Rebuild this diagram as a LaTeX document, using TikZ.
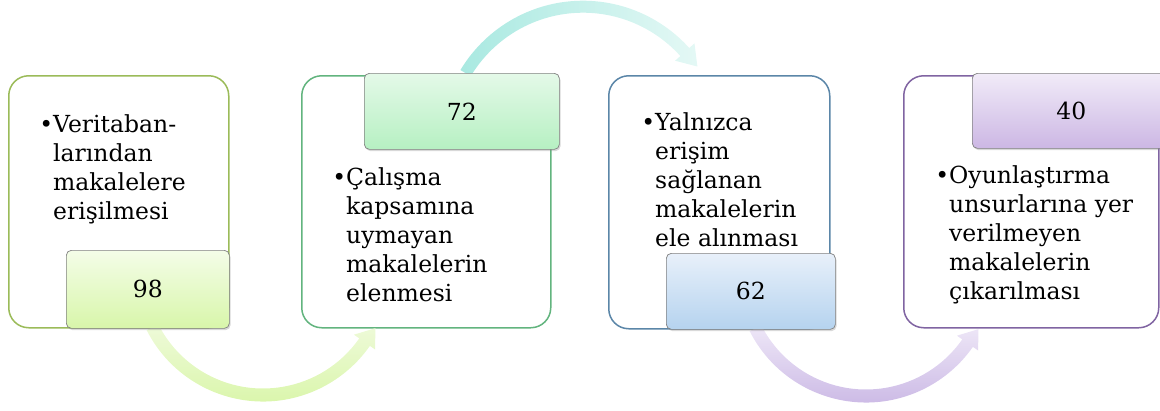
\documentclass[tikz,border=0pt]{standalone}
\usepackage{fontspec}
\setmainfont{DejaVu Serif}
\usetikzlibrary{calc,shadows}
\definecolor{bAcol}{HTML}{9BBB59}
\definecolor{bBcol}{HTML}{62B47E}
\definecolor{bCcol}{HTML}{5B86A8}
\definecolor{bDcol}{HTML}{8064A2}
\definecolor{tabline}{HTML}{808080}
\definecolor{tAtop}{HTML}{F4FDE8}
\definecolor{tAbot}{HTML}{D8F6AA}
\definecolor{tBtop}{HTML}{E4F9E8}
\definecolor{tBbot}{HTML}{B6F0C2}
\definecolor{tCtop}{HTML}{E8F0FA}
\definecolor{tCbot}{HTML}{B5D3EF}
\definecolor{tDtop}{HTML}{F1EBF8}
\definecolor{tDbot}{HTML}{CCB7E4}
\definecolor{aApale}{HTML}{EEFAD9}
\definecolor{aAsat}{HTML}{D6F5A2}
\definecolor{aBpale}{HTML}{E4F8F5}
\definecolor{aBsat}{HTML}{A9E9E1}
\definecolor{aCpale}{HTML}{EEE7F7}
\definecolor{aCsat}{HTML}{C5B1E2}
\newcommand\bultext[1]{\parbox[t]{260pt}{\raggedright\leavevmode\llap{•}#1}}
\begin{document}
\begin{tikzpicture}[x=1pt,y=-1pt,
  outerbox/.style={draw=#1, line width=1.5pt, rounded corners=20pt, fill=white,
    anchor=north west, inner sep=0pt},
  tabbox/.style 2 args={draw=tabline, line width=0.7pt, rounded corners=5pt,
    top color=#1, bottom color=#2, anchor=north west, inner sep=0pt,
    font=\fontsize{23.5pt}{29pt}\selectfont,
    drop shadow={shadow xshift=1.2pt, shadow yshift=-1.8pt, opacity=0.3}},
  txt/.style={anchor=base west, inner sep=0pt, font=\fontsize{23.5pt}{29pt}\selectfont}
]
\useasboundingbox (0,0) rectangle (1160,410);

% outer boxes
\node[outerbox=bAcol, minimum width=220pt, minimum height=252pt] (b1) at (8,75) {};
\node[outerbox=bBcol, minimum width=249pt, minimum height=252pt] (b2) at (301,75) {};
\node[outerbox=bCcol, minimum width=221pt, minimum height=253pt] (b3) at (608,75) {};
\node[outerbox=bDcol, minimum width=255pt, minimum height=252pt] (b4) at (903,75) {};

% texts
\node[txt] (x1) at (53,132) {\bultext{Veritaban-\\larından\\makalelere\\erişilmesi}};
\node[txt] (x2) at (346,185) {\bultext{Çalışma\\kapsamına\\uymayan\\makalelerin\\elenmesi}};
\node[txt] (x3) at (655,130) {\bultext{Yalnızca\\erişim\\sağlanan\\makalelerin\\ele alınması}};
\node[txt] (x4) at (949,183) {\bultext{Oyunlaştırma\\unsurlarına yer\\verilmeyen\\makalelerin\\çıkarılması}};

% tab anchors for arrows (geometry)
\coordinate (t98s) at (147.5,328);
\coordinate (t72n) at (461.5,73);
\coordinate (t62s) at (750.5,329);

% arrows
\coordinate (c1) at ($(t98s)+(115.5,-57)$);
\shade[top color=aApale, bottom color=aAsat]
  ($(c1)+(153:130.5)$) arc[start angle=153, end angle=35, radius=130.5]
  -- ($(c1)+(35:137)$) -- ($(c1)+(27:126)$) -- ($(c1)+(35:111)$)
  -- ($(c1)+(35:117.5)$) arc[start angle=35, end angle=153, radius=117.5] -- cycle;

\coordinate (c2) at ($(t72n)+(121.5,70.7)$);
\shade[left color=aBsat, right color=aBpale]
  ($(c2)+(211:143)$) arc[start angle=211, end angle=318, radius=143]
  -- ($(c2)+(318:150)$) -- ($(c2)+(326:138)$) -- ($(c2)+(318:124)$)
  -- ($(c2)+(318:131)$) arc[start angle=318, end angle=211, radius=131] -- cycle;

\coordinate (c3) at ($(t62s)+(115.5,-57)$);
\shade[top color=aCpale, bottom color=aCsat]
  ($(c3)+(153:130.5)$) arc[start angle=153, end angle=35, radius=130.5]
  -- ($(c3)+(35:137)$) -- ($(c3)+(27:126)$) -- ($(c3)+(35:111)$)
  -- ($(c3)+(35:117.5)$) arc[start angle=35, end angle=153, radius=117.5] -- cycle;

% tabs
\node[tabbox={tAtop}{tAbot}, minimum width=163pt, minimum height=78pt] (t98) at (66,250) {98};
\node[tabbox={tBtop}{tBbot}, minimum width=195pt, minimum height=76pt] (t72) at (364,73) {72};
\node[tabbox={tCtop}{tCbot}, minimum width=169pt, minimum height=76pt] (t62) at (666,253) {62};
\node[tabbox={tDtop}{tDbot}, minimum width=198pt, minimum height=75pt] (t40) at (972,73) {40};
\end{tikzpicture}
\end{document}
